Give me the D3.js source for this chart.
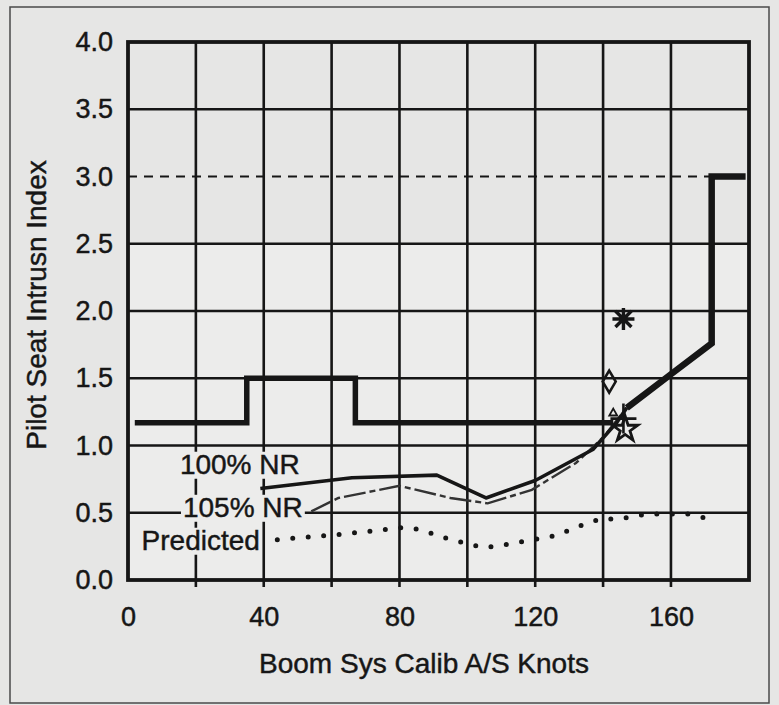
<!DOCTYPE html>
<html><head><meta charset="utf-8">
<script src="https://cdn.jsdelivr.net/npm/d3@7"></script>
<style>
body{margin:0;background:#e6e6e5;}
svg{display:block;font-family:"Liberation Sans",Arial,Helvetica,sans-serif;}
svg text{stroke:#161616;stroke-width:0.45px;}
</style>
</head><body>
<svg id="chart" width="779" height="705"></svg>
<script>
// ---------- data ----------
const xTickLabels = [0, 40, 80, 120, 160];
const xGridValues = [20, 40, 60, 80, 100, 120, 140, 160];
const yTickLabels = [0, 0.5, 1.0, 1.5, 2.0, 2.5, 3.0, 3.5, 4.0];
const referenceLevel = 3.0;          // dashed line
const referenceEnd = 172;

// thick limit line (two pieces)
const limitLow  = [[2,1.17],[35,1.17],[35,1.5],[67,1.5],[67,1.17],[143,1.17]];
const limitHigh = [[147,1.28],[160,1.53],[172,1.76],[172,3.0],[182,3.0]];

// 100% NR (solid)
const nr100 = [[39,0.68],[66,0.76],[91,0.78],[105.5,0.61],[120,0.74],[137,0.97],[144,1.17],[147,1.28]];
// 105% NR (broken)
const nr105 = [[54,0.51],[62,0.61],[80,0.70],[95,0.61],[106,0.57],[119,0.67],[132,0.87],[140,1.06],[147,1.28]];
// Predicted (dotted)
const predicted = [[44,0.30],[63,0.34],[81,0.39],[86,0.375],[95,0.30],[105,0.24],[113,0.27],[126,0.33],[135,0.42],[140,0.46],[144,0.45],[153,0.49],[165,0.49],[172,0.45]];

// individual test points
const pointTypes  = ["asterisk","diamond","plus","triangle","star"];
const pointX      = [146, 141.8, 146, 143, 146.5];
const pointY      = [1.94, 1.475, 1.2, 1.24, 1.12];

// annotation labels
const labelTexts = ["100% NR", "105% NR", "Predicted"];
const labelX     = [15.3, 16.2, 4.0];
const labelY     = [0.79, 0.47, 0.225];

const xTitle = "Boom Sys Calib A/S Knots";
const yTitle = "Pilot Seat Intrusn Index";

// ---------- layout ----------
const svg = d3.select("#chart");
const x = d3.scaleLinear().domain([0, 183]).range([128, 749]);
const y = d3.scaleLinear().domain([0, 4]).range([580, 42]);
const ink = "#161616";
const bg = "#e6e6e5";
const bgLight = "#ececeb";

svg.append("rect").attr("width",779).attr("height",705).attr("fill",bg);
svg.append("rect").attr("x",10).attr("y",7).attr("width",759).attr("height",696)
  .attr("fill","none").attr("stroke","#4a4a4a").attr("stroke-width",1.5);

// lighter scanned band
svg.append("rect").attr("x",x(0)).attr("y",y(2.5)).attr("width",x(183)-x(0)).attr("height",y(0)-y(2.5))
  .attr("fill",bgLight);

// vertical gridlines
svg.append("g").selectAll("line").data(xGridValues).join("line")
  .attr("x1",d=>x(d)).attr("x2",d=>x(d)).attr("y1",y(4)).attr("y2",y(0)+7)
  .attr("stroke",ink).attr("stroke-width",2.6);

// horizontal gridlines
svg.append("g").selectAll("line").data(yTickLabels.filter(v=>v>0 && v<4 && v!==referenceLevel)).join("line")
  .attr("x1",x(0)).attr("x2",x(183)).attr("y1",d=>y(d)).attr("y2",d=>y(d))
  .attr("stroke",ink).attr("stroke-width",2.6);

// dashed reference
svg.append("line").attr("x1",x(0)).attr("x2",x(referenceEnd))
  .attr("y1",y(referenceLevel)).attr("y2",y(referenceLevel))
  .attr("stroke",ink).attr("stroke-width",2).attr("stroke-dasharray","9,7");

// frame
svg.append("rect").attr("x",x(0)).attr("y",y(4)).attr("width",x(183)-x(0)).attr("height",y(0)-y(4))
  .attr("fill","none").attr("stroke",ink).attr("stroke-width",3.8);

// axes labels
const xAxis = d3.axisBottom(x).tickValues(xTickLabels).tickSize(0).tickPadding(27).tickFormat(d3.format("d"));
const gx = svg.append("g").attr("transform",`translate(0,${y(0)})`).call(xAxis);
gx.select(".domain").remove();
gx.selectAll("text").attr("font-size",27).attr("fill",ink).attr("font-family","Liberation Sans, Arial, sans-serif");

const yAxis = d3.axisLeft(y).tickValues(yTickLabels).tickSize(0).tickPadding(15).tickFormat(d3.format(".1f"));
const gy = svg.append("g").attr("transform",`translate(${x(0)},0)`).call(yAxis);
gy.select(".domain").remove();
gy.selectAll("text").attr("font-size",27).attr("fill",ink).attr("font-family","Liberation Sans, Arial, sans-serif");

svg.append("text").attr("x",424).attr("y",673).attr("text-anchor","middle")
  .attr("font-size",28).attr("fill",ink).text(xTitle);
svg.append("text").attr("transform","translate(46,305) rotate(-90)").attr("text-anchor","middle")
  .attr("font-size",28).attr("fill",ink).text(yTitle);

// ---------- series ----------
const line = d3.line().x(d=>x(d[0])).y(d=>y(d[1]));

svg.append("path").datum(predicted).attr("d",line).attr("fill","none")
  .attr("stroke",ink).attr("stroke-width",5).attr("stroke-linecap","round").attr("stroke-dasharray","0,15.5");

svg.append("path").datum(nr105).attr("d",line).attr("fill","none")
  .attr("stroke","#333").attr("stroke-width",2.4).attr("stroke-dasharray","22,4,6,4");

svg.append("path").datum(nr100).attr("d",line).attr("fill","none")
  .attr("stroke",ink).attr("stroke-width",3.6).attr("stroke-linejoin","round");

svg.append("path").datum(limitLow).attr("d",line).attr("fill","none")
  .attr("stroke",ink).attr("stroke-width",5.5).attr("stroke-linejoin","miter");
svg.append("path").datum(limitHigh).attr("d",line).attr("fill","none")
  .attr("stroke",ink).attr("stroke-width",6.5).attr("stroke-linejoin","miter");

// ---------- test points ----------
const shapes = {
  asterisk: "M-11,0H11M0,-11V11M-8,-8L8,8M-8,8L8,-8",
  diamond:  "M0,-11L6.5,0L0,11L-6.5,0Z",
  plus:     "M-13,0H13M0,-15V15",
  triangle: d3.symbol(d3.symbolTriangle2, 45)(),
  star:     d3.symbol(d3.symbolStar, 200)()
};
const widths = {asterisk:3.4, diamond:2.6, plus:2.6, triangle:1.8, star:2.8};
svg.append("g").selectAll("path").data(pointTypes).join("path")
  .attr("transform",(d,i)=>`translate(${x(pointX[i])},${y(pointY[i])})`)
  .attr("d",d=>shapes[d]).attr("fill","none").attr("stroke",ink)
  .attr("stroke-width",d=>widths[d]).attr("stroke-linejoin","miter");

// ---------- annotation labels ----------
const lg = svg.append("g");
labelTexts.forEach((t,i)=>{
  const g = lg.append("g");
  const r = g.append("rect");
  const tx = g.append("text").attr("x",x(labelX[i])).attr("y",y(labelY[i]))
    .attr("font-size",28).attr("fill",ink).text(t);
  const b = tx.node().getBBox();
  r.attr("x",b.x-2).attr("y",b.y+3).attr("width",b.width+4).attr("height",b.height-4).attr("fill",bgLight);
});
</script>
</body></html>
